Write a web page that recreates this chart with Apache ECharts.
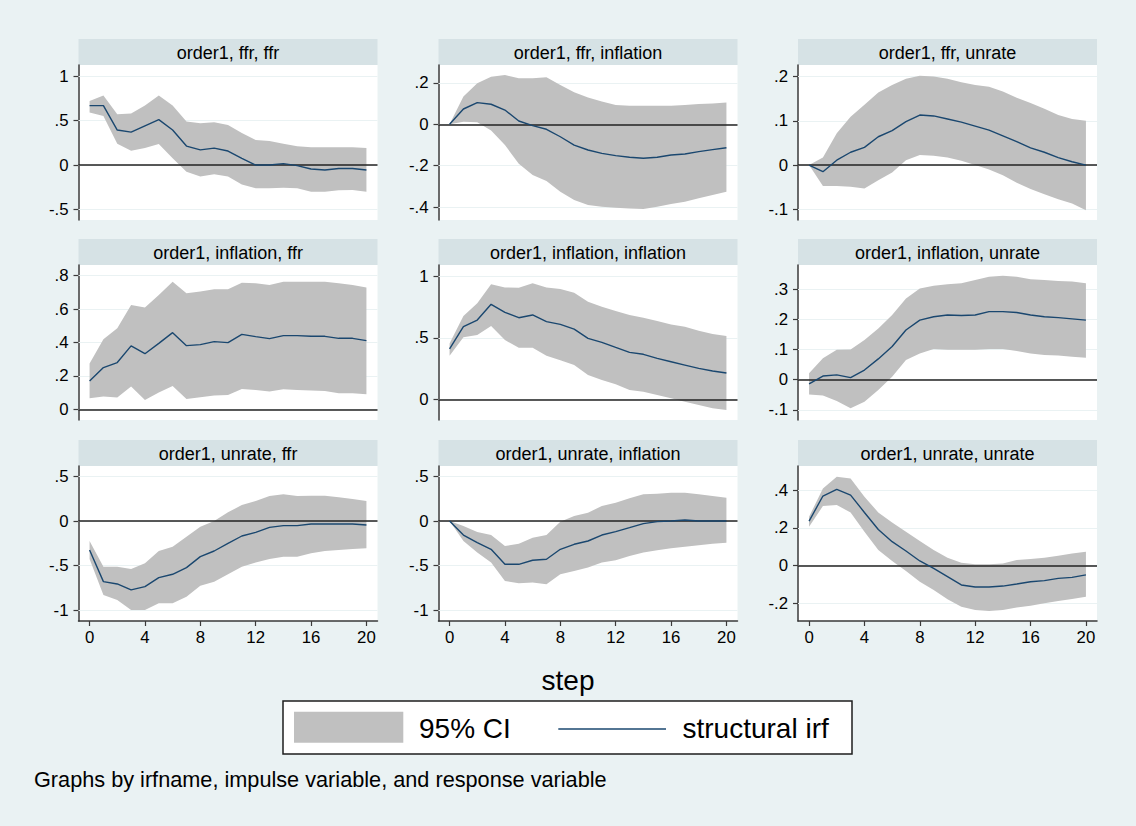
<!DOCTYPE html>
<html><head><meta charset="utf-8">
<script src="https://cdn.jsdelivr.net/npm/echarts@6/dist/echarts.min.js"></script>
<style>html,body{margin:0;padding:0;background:#eaf2f3;}#c{width:1136px;height:826px;}</style>
</head><body><div id="c"></div>
<script>
// ---------- data ----------
const steps = [0,1,2,3,4,5,6,7,8,9,10,11,12,13,14,15,16,17,18,19,20];
const xTicks = [0,4,8,12,16,20];
const panelTitles = [
  'order1, ffr, ffr','order1, ffr, inflation','order1, ffr, unrate',
  'order1, inflation, ffr','order1, inflation, inflation','order1, inflation, unrate',
  'order1, unrate, ffr','order1, unrate, inflation','order1, unrate, unrate'
];
const yTicks = [
  [-0.5,0,0.5,1],[-0.4,-0.2,0,0.2],[-0.1,0,0.1,0.2],
  [0,0.2,0.4,0.6,0.8],[0,0.5,1],[-0.1,0,0.1,0.2,0.3],
  [-1,-0.5,0,0.5],[-1,-0.5,0,0.5],[-0.2,0,0.2,0.4]
];
const legendLabels = ['95% CI','structural irf'];
const xTitle = 'step';
const noteText = 'Graphs by irfname, impulse variable, and response variable';

const irf_ffr_ffr = [0.667,0.667,0.393,0.370,0.440,0.510,0.393,0.213,0.170,0.190,0.157,0.075,0.000,0.000,0.015,-0.007,-0.045,-0.056,-0.040,-0.040,-0.056];
const hi_ffr_ffr  = [0.72,0.78,0.57,0.58,0.67,0.78,0.67,0.49,0.47,0.48,0.45,0.36,0.28,0.27,0.24,0.21,0.20,0.20,0.20,0.20,0.19];
const lo_ffr_ffr  = [0.59,0.55,0.24,0.16,0.19,0.235,0.075,-0.075,-0.13,-0.105,-0.13,-0.22,-0.26,-0.26,-0.255,-0.26,-0.30,-0.30,-0.285,-0.28,-0.30];

const irf_ffr_inf = [0,0.074,0.105,0.097,0.069,0.016,-0.006,-0.024,-0.06,-0.10,-0.124,-0.14,-0.151,-0.159,-0.164,-0.159,-0.148,-0.143,-0.132,-0.122,-0.113];
const hi_ffr_inf  = [0,0.134,0.198,0.23,0.238,0.222,0.222,0.227,0.19,0.155,0.129,0.11,0.093,0.09,0.09,0.09,0.09,0.093,0.098,0.10,0.106];
const lo_ffr_inf  = [0,0.013,0.01,-0.03,-0.10,-0.19,-0.245,-0.274,-0.325,-0.365,-0.39,-0.398,-0.403,-0.406,-0.409,-0.398,-0.385,-0.374,-0.357,-0.341,-0.325];

const irf_ffr_unr = [0,-0.015,0.011,0.029,0.040,0.064,0.078,0.098,0.113,0.111,0.104,0.097,0.088,0.079,0.066,0.053,0.039,0.029,0.017,0.0075,0];
const hi_ffr_unr  = [0,0.017,0.072,0.109,0.136,0.164,0.181,0.195,0.202,0.200,0.195,0.187,0.181,0.177,0.166,0.152,0.140,0.127,0.113,0.104,0.100];
const lo_ffr_unr  = [0,-0.047,-0.047,-0.049,-0.053,-0.034,-0.017,0.011,0.023,0.021,0.017,0.010,0,-0.010,-0.023,-0.040,-0.054,-0.066,-0.077,-0.087,-0.102];

const irf_inf_ffr = [0.17,0.25,0.28,0.38,0.333,0.395,0.459,0.381,0.387,0.405,0.399,0.449,0.435,0.423,0.441,0.441,0.437,0.437,0.425,0.425,0.411];
const hi_inf_ffr  = [0.275,0.42,0.485,0.625,0.609,0.685,0.764,0.695,0.705,0.719,0.719,0.758,0.754,0.745,0.764,0.764,0.764,0.764,0.754,0.745,0.73];
const lo_inf_ffr  = [0.066,0.076,0.07,0.136,0.056,0.10,0.14,0.062,0.072,0.082,0.086,0.122,0.116,0.106,0.12,0.116,0.112,0.11,0.096,0.096,0.09];

const irf_inf_inf = [0.41,0.59,0.644,0.771,0.706,0.663,0.685,0.631,0.609,0.571,0.496,0.464,0.423,0.383,0.367,0.334,0.307,0.28,0.253,0.232,0.216];
const hi_inf_inf  = [0.455,0.677,0.779,0.933,0.908,0.906,0.941,0.908,0.895,0.865,0.792,0.752,0.717,0.685,0.663,0.636,0.609,0.59,0.558,0.531,0.515];
const lo_inf_inf  = [0.356,0.504,0.523,0.596,0.482,0.42,0.42,0.356,0.32,0.28,0.20,0.159,0.124,0.078,0.065,0.038,0.011,-0.016,-0.043,-0.07,-0.084];

const irf_inf_unr = [-0.014,0.012,0.016,0.007,0.032,0.069,0.11,0.165,0.198,0.209,0.215,0.213,0.215,0.226,0.226,0.223,0.215,0.209,0.206,0.202,0.198];
const hi_inf_unr  = [0.021,0.071,0.099,0.10,0.132,0.17,0.215,0.27,0.303,0.312,0.317,0.32,0.331,0.342,0.345,0.342,0.334,0.331,0.328,0.326,0.32];
const lo_inf_unr  = [-0.049,-0.053,-0.071,-0.095,-0.073,-0.034,0.01,0.065,0.087,0.102,0.099,0.099,0.099,0.102,0.102,0.095,0.087,0.082,0.08,0.076,0.073];

const irf_unr_ffr = [-0.325,-0.679,-0.705,-0.772,-0.735,-0.634,-0.597,-0.522,-0.399,-0.336,-0.25,-0.168,-0.127,-0.071,-0.052,-0.052,-0.034,-0.034,-0.034,-0.034,-0.045];
const hi_unr_ffr  = [-0.224,-0.511,-0.511,-0.537,-0.474,-0.336,-0.287,-0.175,-0.063,0,0.097,0.179,0.224,0.28,0.299,0.28,0.284,0.284,0.265,0.246,0.224];
const lo_unr_ffr  = [-0.425,-0.828,-0.884,-0.996,-0.996,-0.922,-0.922,-0.847,-0.724,-0.679,-0.597,-0.511,-0.466,-0.425,-0.399,-0.399,-0.362,-0.336,-0.325,-0.313,-0.306];

const irf_unr_inf = [0,-0.157,-0.243,-0.317,-0.485,-0.485,-0.44,-0.429,-0.317,-0.261,-0.224,-0.157,-0.119,-0.075,-0.03,-0.007,0.0,0.012,0.0,0.0,0.0];
const hi_unr_inf  = [0,-0.056,-0.123,-0.157,-0.28,-0.254,-0.187,-0.157,-0.007,0.056,0.093,0.168,0.205,0.254,0.299,0.306,0.317,0.317,0.299,0.28,0.261];
const lo_unr_inf  = [0,-0.224,-0.354,-0.466,-0.672,-0.698,-0.69,-0.709,-0.597,-0.56,-0.522,-0.466,-0.44,-0.392,-0.354,-0.328,-0.306,-0.287,-0.272,-0.254,-0.243];

const irf_unr_unr = [0.236,0.369,0.404,0.374,0.282,0.192,0.127,0.078,0.025,-0.014,-0.058,-0.102,-0.113,-0.113,-0.108,-0.097,-0.085,-0.079,-0.067,-0.062,-0.049];
const hi_unr_unr  = [0.259,0.409,0.471,0.462,0.365,0.282,0.229,0.18,0.131,0.083,0.042,0.016,0.007,0.007,0.012,0.03,0.035,0.042,0.053,0.065,0.074];
const lo_unr_unr  = [0.206,0.316,0.321,0.282,0.18,0.083,0.025,-0.028,-0.085,-0.129,-0.178,-0.217,-0.235,-0.24,-0.235,-0.222,-0.212,-0.199,-0.187,-0.176,-0.164];

const irfs = [irf_ffr_ffr,irf_ffr_inf,irf_ffr_unr,irf_inf_ffr,irf_inf_inf,irf_inf_unr,irf_unr_ffr,irf_unr_inf,irf_unr_unr];
const his  = [hi_ffr_ffr,hi_ffr_inf,hi_ffr_unr,hi_inf_ffr,hi_inf_inf,hi_inf_unr,hi_unr_ffr,hi_unr_inf,hi_unr_unr];
const los  = [lo_ffr_ffr,lo_ffr_inf,lo_ffr_unr,lo_inf_ffr,lo_inf_inf,lo_inf_unr,lo_unr_ffr,lo_unr_inf,lo_unr_unr];

// ---------- layout / style ----------
const FONT = '"Liberation Sans", Arial, Helvetica, sans-serif';
const colLeft = [78.5, 438.5, 798];
const rowTop = [65, 265, 466];
const plotW = 299, plotH = 155, stripH = 26;
const yExtent = [
  [-0.618,1.124],[-0.462,0.2865],[-0.124,0.226],
  [-0.064,0.864],[-0.164,1.089],[-0.134,0.381],
  [-1.12,0.616],[-1.12,0.616],[-0.293,0.528]
];
const C_BG = '#eaf2f3', C_STRIP = '#d6e2e5', C_CI = '#c0c0c0', C_LINE = '#1a476f', C_AXIS = '#3a3a3a';

const fmt = v => String(Math.round(v * 1000) / 1000).replace(/^(-?)0\./, '$1.');

// CI band drawn as one polygon through the axis scales (api.coord)
function bandRender(params, api) {
  if (params.dataIndex !== 0) return null;
  const n = params.dataInsideLength;
  const upper = [], lower = [];
  for (let j = 0; j < n; j++) {
    upper.push(api.coord([api.value(0, j), api.value(2, j)]));
    lower.push(api.coord([api.value(0, j), api.value(1, j)]));
  }
  return {type: 'polygon', shape: {points: upper.concat(lower.reverse())},
          style: {fill: C_CI, stroke: null}};
}

const grids = [], xAxes = [], yAxes = [], series = [], graphics = [];
for (let i = 0; i < 9; i++) {
  const r = Math.floor(i / 3), c = i % 3;
  const left = colLeft[c], top = rowTop[r];
  grids.push({left, top, width: plotW, height: plotH, show: true, backgroundColor: '#ffffff', borderWidth: 0, containLabel: false, outerBoundsMode: 'none'});
  xAxes.push({
    gridIndex: i, type: 'value', min: -0.8, max: 20.8, show: r === 2,
    axisLine: {show: true, onZero: false, lineStyle: {color: C_AXIS, width: 1.5}},
    axisTick: {show: true, customValues: xTicks, length: 5, lineStyle: {color: C_AXIS, width: 1.2}},
    axisLabel: {show: true, customValues: xTicks, margin: 8, fontSize: 16.8, color: '#000', fontFamily: FONT, formatter: fmt},
    splitLine: {show: false}
  });
  yAxes.push({
    gridIndex: i, type: 'value', min: yExtent[i][0], max: yExtent[i][1],
    axisLine: {show: true, onZero: false, lineStyle: {color: C_AXIS, width: 1.5}},
    axisTick: {show: true, customValues: yTicks[i], length: 5, lineStyle: {color: C_AXIS, width: 1.2}},
    axisLabel: {show: true, customValues: yTicks[i], margin: 10, fontSize: 16.8, color: '#000', fontFamily: FONT, formatter: fmt},
    splitLine: {show: false}
  });
  const lo = los[i], hi = his[i], ir = irfs[i];
  // invisible lower-bound line carrying the faint grid lines (below the band)
  series.push({
    type: 'line', xAxisIndex: i, yAxisIndex: i, data: steps.map((s, k) => [s, lo[k]]),
    symbol: 'none', lineStyle: {opacity: 0}, z: 1, silent: true,
    markLine: {z: 1, silent: true, symbol: ['none', 'none'], label: {show: false}, animation: false,
      lineStyle: {color: C_BG, width: 1, type: 'solid'}, data: yTicks[i].map(v => ({yAxis: v}))}
  });
  // confidence band
  series.push({
    name: legendLabels[0], type: 'custom', xAxisIndex: i, yAxisIndex: i, z: 2, silent: true,
    data: steps.map((s, k) => [s, lo[k], hi[k]]), encode: {x: 0, y: [1, 2]},
    renderItem: bandRender,
    markLine: {z: 3, silent: true, symbol: ['none', 'none'], label: {show: false}, animation: false,
      lineStyle: {color: '#222222', width: 1.5, type: 'solid'}, data: [{yAxis: 0}]}
  });
  // structural irf
  series.push({
    name: legendLabels[1], type: 'line', xAxisIndex: i, yAxisIndex: i, data: steps.map((s, k) => [s, ir[k]]),
    symbol: 'none', lineStyle: {color: C_LINE, width: 1.4}, z: 4, silent: true
  });
  graphics.push({type: 'rect', shape: {x: left, y: top - stripH, width: plotW, height: stripH}, style: {fill: C_STRIP}, silent: true});
  graphics.push({type: 'text', x: left + plotW / 2, y: top - stripH / 2 + 0.5, silent: true,
    style: {text: panelTitles[i], fontSize: 18, fontFamily: FONT, fill: '#000', align: 'center', verticalAlign: 'middle'}});
}
// axis title
graphics.push({type: 'text', x: 568, y: 680, silent: true,
  style: {text: xTitle, fontSize: 28, fontFamily: FONT, fill: '#000', align: 'center', verticalAlign: 'middle'}});
// legend
graphics.push({type: 'rect', shape: {x: 283, y: 701, width: 569, height: 53}, style: {fill: '#ffffff', stroke: '#1e1e1e', lineWidth: 1.5}, silent: true});
graphics.push({type: 'rect', shape: {x: 294, y: 711.7, width: 109.3, height: 31}, style: {fill: C_CI}, silent: true});
graphics.push({type: 'text', x: 419, y: 728.5, silent: true,
  style: {text: legendLabels[0], fontSize: 28, fontFamily: FONT, fill: '#000', align: 'left', verticalAlign: 'middle'}});
graphics.push({type: 'line', shape: {x1: 558.3, y1: 729, x2: 666, y2: 729}, style: {stroke: C_LINE, lineWidth: 1.7}, silent: true});
graphics.push({type: 'text', x: 682.5, y: 728.5, silent: true,
  style: {text: legendLabels[1], fontSize: 28, fontFamily: FONT, fill: '#000', align: 'left', verticalAlign: 'middle'}});
// note
graphics.push({type: 'text', x: 34, y: 779.5, silent: true,
  style: {text: noteText, fontSize: 21.7, fontFamily: FONT, fill: '#000', align: 'left', verticalAlign: 'middle'}});

const chart = echarts.init(document.getElementById('c'), null, {renderer: 'svg', width: 1136, height: 826});
chart.setOption({
  backgroundColor: C_BG,
  animation: false,
  grid: grids, xAxis: xAxes, yAxis: yAxes, series,
  graphic: {elements: graphics}
});
</script></body></html>
